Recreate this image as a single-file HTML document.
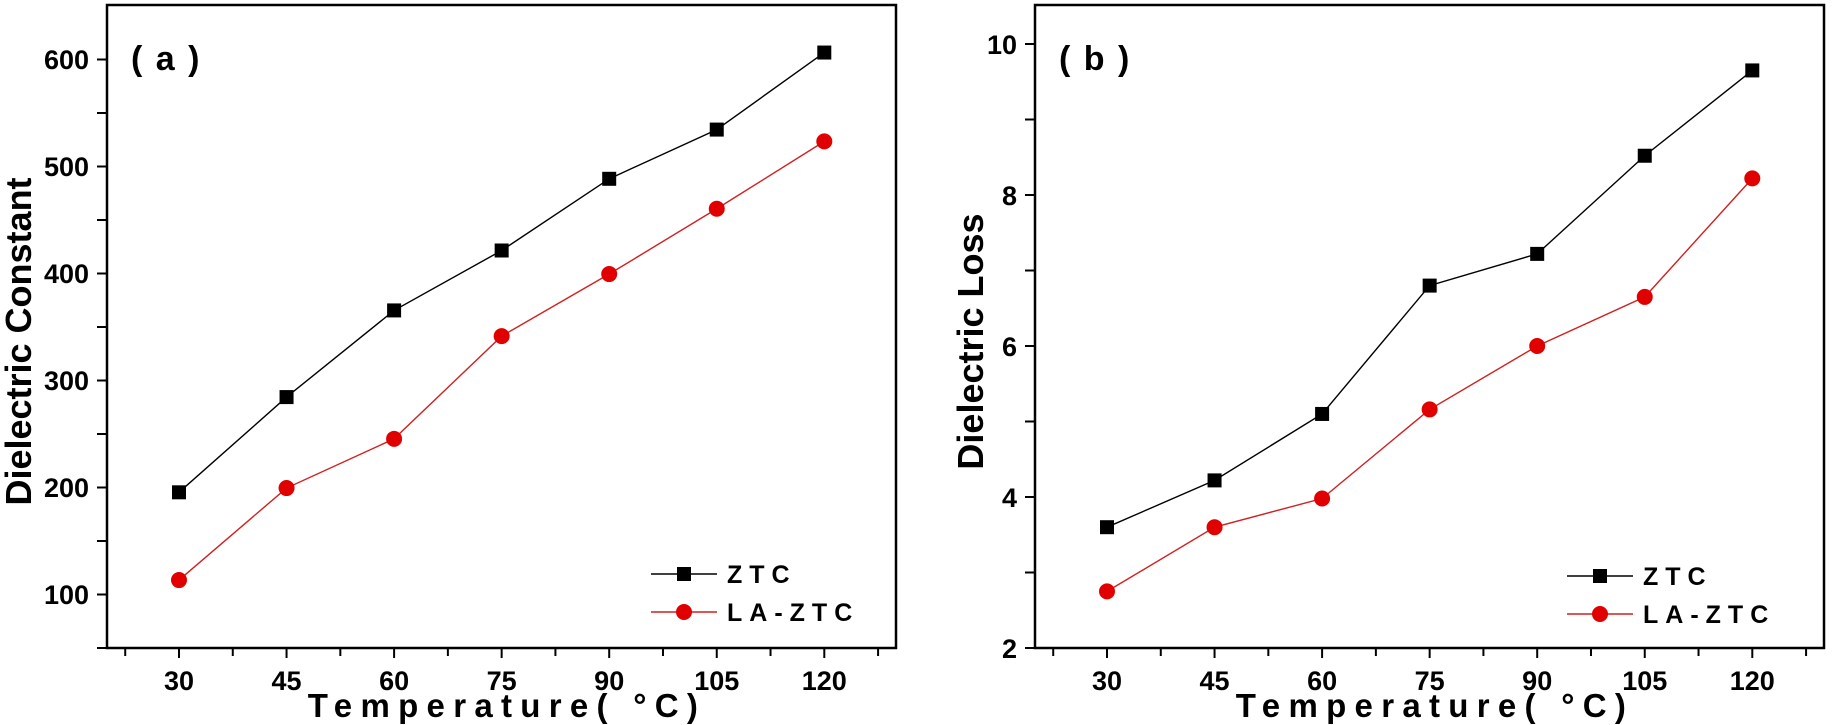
<!DOCTYPE html>
<html><head><meta charset="utf-8"><style>
html,body{margin:0;padding:0;background:#fff;}
svg{display:block;font-family:"Liberation Sans",Arial,sans-serif;font-weight:bold;}
</style></head><body>
<svg id="c" width="1833" height="725" xmlns="http://www.w3.org/2000/svg"></svg>
<script>
const categories=[30,45,60,75,90,105,120];
const ztcConstant=[195,284,365,421,488,534,606];
const laConstant=[113,199,245,341,399,460,523];
const ztcLoss=[3.6,4.22,5.1,6.8,7.22,8.52,9.65];
const laLoss=[2.75,3.6,3.98,5.16,6.0,6.65,8.22];
const yTicksA=[100,200,300,400,500,600];
const yTicksB=[2,4,6,8,10];
const xTicks=[30,45,60,75,90,105,120];
const NS="http://www.w3.org/2000/svg";
const svg=document.getElementById('c');
function mk(t,a,p){const e=document.createElementNS(NS,t);for(const k in a)e.setAttribute(k,a[k]);(p||svg).appendChild(e);return e;}
function panel(o){
  const g=mk('g',{});
  
  
  const L=o.left,R=o.left+789,T=5,B=648;
  const sx=v=>o.left+72+(v-30)*7.17;
  const sy=v=>B-(v-o.ymin)*o.ppu;
  const box=mk('rect',{x:L,y:T,width:R-L,height:B-T,fill:'none',stroke:'#000','stroke-width':2.5},g);
  
  
  for(let v=22.5;v<=128;v+=7.5){const x=sx(v);const major=xTicks.includes(v);mk('line',{x1:x,y1:B,x2:x,y2:B+(major?10:8),stroke:'#000','stroke-width':2},g);}
  xTicks.forEach(v=>{const t=mk('text',{x:sx(v),y:B+42,'text-anchor':'middle','font-size':27},g);t.textContent=v;
    
    });
  const yt=o.yticks;const step=yt[1]-yt[0];
  for(let v=o.ymin;v<=o.ymax+1e-9;v+=step/2){const y=sy(v);if(y<T+1)continue;mk('line',{x1:L,y1:y,x2:L-10,y2:y,stroke:'#000','stroke-width':2},g);}
  yt.forEach(v=>{const t=mk('text',{x:L-18,y:sy(v)+10,'text-anchor':'end','font-size':27},g);t.textContent=v;
    
    });
  const ser=[[o.s1,'#000','sq','ZTC'],[o.s2,'#e00000','ci','LA-ZTC']];
  ser.forEach(([d,c,m,n])=>{
    const pl=mk('polyline',{points:d.map((v,i)=>sx(categories[i])+','+sy(v)).join(' '),fill:'none',stroke:c==='#000'?'#000':'#d02020','stroke-width':1.4},g);
    
    
    d.forEach((v,i)=>{let e;const x=sx(categories[i]),y=sy(v);
      if(m==='sq')e=mk('rect',{x:x-7,y:y-7,width:14,height:14,fill:c},g);else e=mk('circle',{cx:x,cy:y,r:8,fill:c},g);
      
      });
  });
  const lx=o.legX,ly=o.legY;
  ser.forEach(([d,c,m,n],k)=>{const y=ly+k*38;
    mk('line',{x1:lx,y1:y,x2:lx+66,y2:y,stroke:c==='#000'?'#000':'#d02020','stroke-width':1.4},g);
    if(m==='sq')mk('rect',{x:lx+26,y:y-7,width:14,height:14,fill:c},g);else mk('circle',{cx:lx+33,cy:y,r:8,fill:c},g);
    const t=mk('text',{x:lx+76,y:y+9,'font-size':25,'letter-spacing':7},g);t.textContent=n;
    
    });
  const pl=mk('text',{x:L+24,y:70,'font-size':34,'letter-spacing':2},g);pl.textContent=o.label;
  
  
  const yl=mk('text',{x:0,y:0,'font-size':36,'text-anchor':'middle',transform:`translate(${o.ytx},${(T+B)/2+15}) rotate(-90)`},g);yl.textContent=o.ytitle;
  
  
  const xl=mk('text',{x:o.left+400,y:717,'font-size':33,'text-anchor':'middle','letter-spacing':8.3},g);xl.textContent='Temperature( °C)';
  
  
}
panel({name:'panel-a',left:107,ymin:49.5,ymax:641,ppu:1.07,yticks:yTicksA,s1:ztcConstant,s2:laConstant,legX:651,legY:574,label:'( a )',ytitle:'Dielectric Constant',ytx:31});
panel({name:'panel-b',left:1035,ymin:2,ymax:10.5,ppu:75.5,yticks:yTicksB,s1:ztcLoss,s2:laLoss,legX:1567,legY:576,label:'( b )',ytitle:'Dielectric Loss',ytx:983});
</script>
</body></html>
